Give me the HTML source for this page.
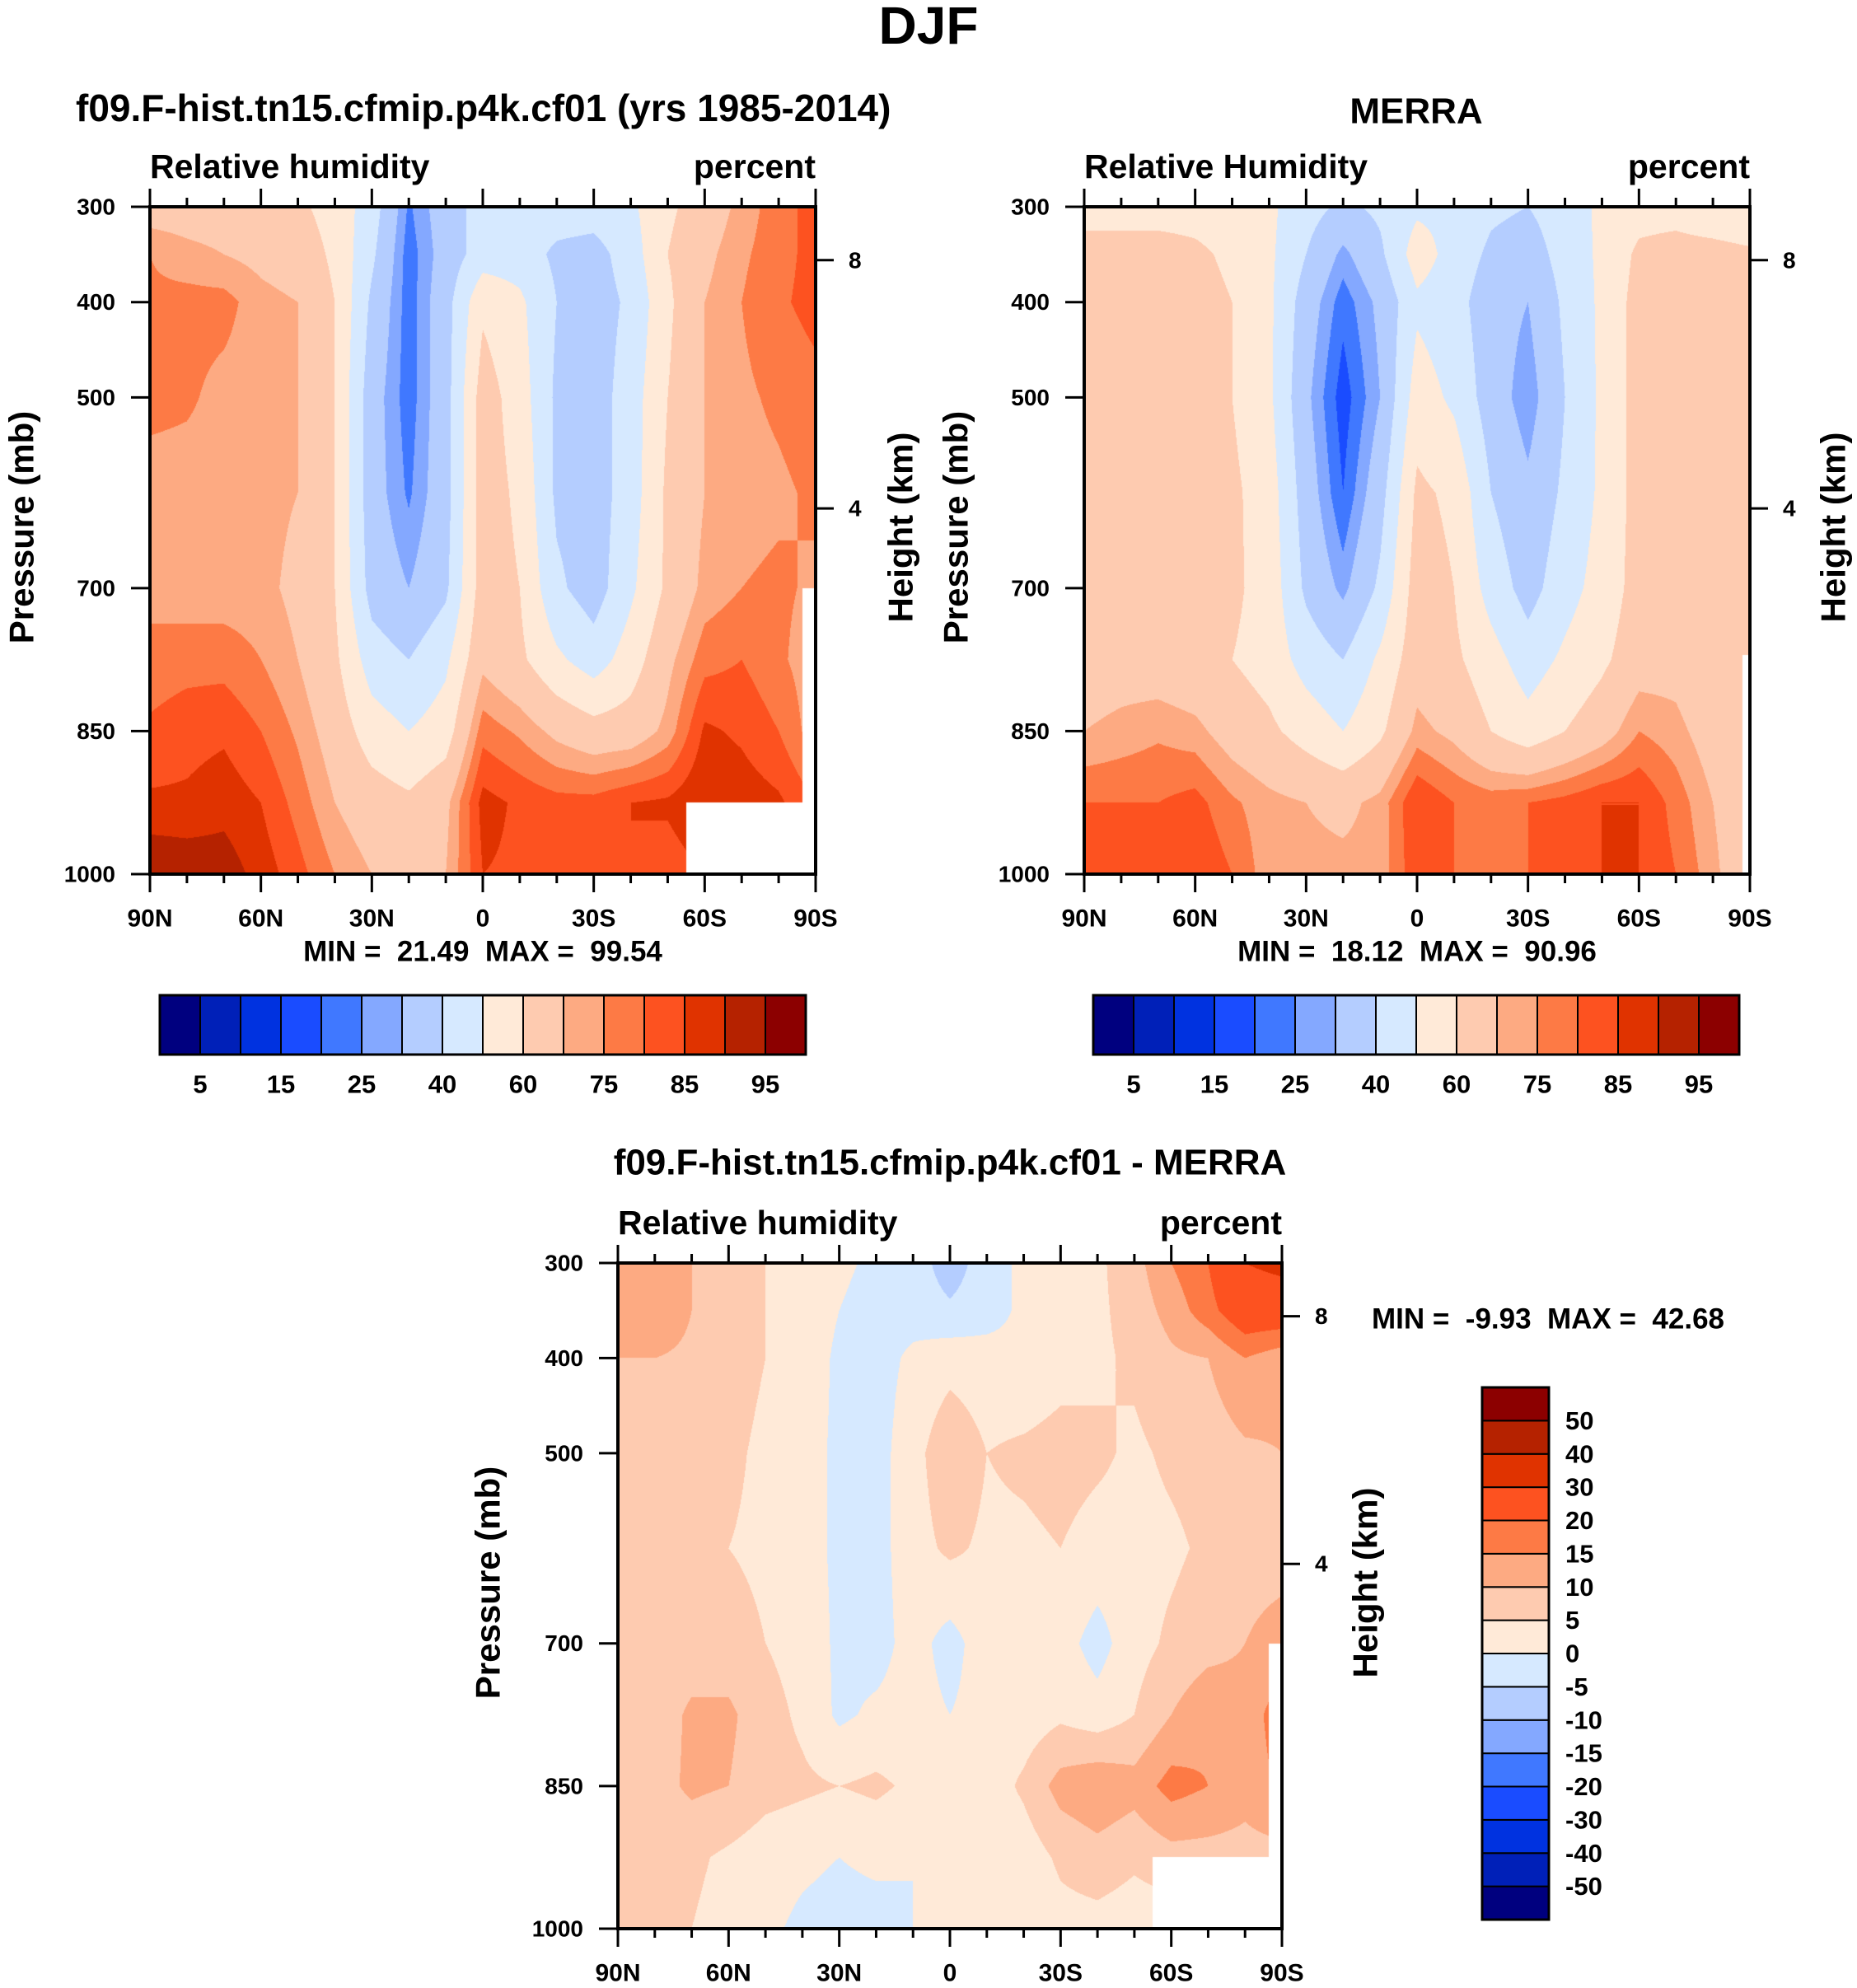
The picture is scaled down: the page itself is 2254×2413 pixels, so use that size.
<!DOCTYPE html>
<html><head><meta charset="utf-8">
<style>
html,body{margin:0;padding:0;background:#fff;}
#root{position:relative;width:2254px;height:2413px;overflow:hidden;font-family:"Liberation Sans",sans-serif;}
canvas{position:absolute;}
svg{position:absolute;left:0;top:0;}
text{font-family:"Liberation Sans",sans-serif;font-weight:bold;fill:#000;white-space:pre;}
</style></head>
<body>
<div id="root">
<canvas id="c1"></canvas>
<canvas id="c2"></canvas>
<canvas id="c3"></canvas>
<svg id="svg" width="2254" height="2413"></svg>
</div>
<script>
// ---- data ----
const lats = [90,80,70,60,50,40,30,20,10,0,-10,-20,-30,-40,-50,-60,-70,-80,-90];
const levels = [300,350,400,500,600,700,775,850,925,1000];
const modelRH = [
[66,66,66,64,62,56,45,24,35,44,45,45,45,48,58,65,72,78,82],
[75,72,70,68,66,58,42,22,34,45,45,38,36,45,60,68,74,78,82],
[76,77,77,72,70,60,38,22,36,58,52,40,35,42,58,70,75,79,82],
[77,76,73,72,70,60,34,22,36,65,55,38,35,45,60,70,74,76,78],
[72,72,72,72,70,60,34,24,36,65,58,38,35,45,62,70,73,74,76],
[73,72,72,72,68,60,36,30,38,65,60,42,35,48,62,72,75,76,74],
[77,78,78,75,70,62,45,40,48,68,62,52,45,55,68,78,80,76,72],
[81,83,84,80,74,66,55,50,55,78,74,68,64,65,72,86,84,80,72],
[86,86,88,85,78,70,65,62,68,87,84,82,82,85,86,90,88,86,80],
[95,94,93,88,82,75,70,68,70,85,84,82,84,85,82,85,88,86,80]];
const merraRH = [
[56,56,56,56,55,52,44,38,42,48,48,42,40,45,52,56,56,52,50],
[64,64,64,62,58,52,40,28,38,55,46,38,35,44,52,62,64,64,62],
[64,64,64,64,60,52,35,22,32,48,44,34,30,42,52,64,64,66,64],
[64,64,64,64,60,52,32,17,30,55,48,35,26,40,52,64,64,64,62],
[65,65,65,64,62,55,35,20,36,62,58,40,32,42,52,64,65,64,62],
[65,65,65,64,62,56,38,28,42,65,60,46,36,46,54,64,64,62,60],
[65,66,65,63,60,56,46,40,52,66,62,54,45,52,58,66,67,62,62],
[70,72,74,72,66,62,56,50,58,72,68,60,54,60,66,75,72,66,62],
[80,80,80,82,76,72,70,68,72,85,80,78,80,82,85,85,78,70,62],
[84,85,84,85,80,72,72,72,72,84,80,78,80,82,85,85,80,72,62]];
const diffRH = [
[15,15,10,7,5,2,1,-1,-2,-8,-2,1,2,4,8,15,20,30,32],
[15,14,10,7,5,3,0,-2,-2,-4,-2,1,2,4,7,12,18,25,25],
[10,10,9,7,5,3,-1,-2,1,3,2,1,3,4,6,9,10,15,12],
[7,7,7,6,4,2,-1,-2,3,9,5,6,7,6,4,6,7,9,10],
[5,5,5,5,4,2,-1,-2,3,6,4,4,5,3,3,4,6,8,8],
[6,6,7,7,5,3,-1,-2,2,-2,3,2,2,-2,3,6,8,10,12],
[6,7,11,11,7,4,-1,1,2,0,2,2,4,2,5,10,14,12,18],
[6,8,11,10,7,6,5,6,4,4,2,6,12,14,12,17,15,12,16],
[6,6,6,4,2,1,0,1,0,0,0,2,6,8,6,8,8,8,8],
[6,6,5,3,1,-1,-2,-2,0,0,0,0,3,3,2,2,2,2,2]];
// missing-data regions: [latFrom, latTo, pTop, pBottom]
const missingModel = [[-55,-90,925,1000],[-86.5,-90,700,1000]];
const missingMerra = [[-88,-90,770,1000]];
const rhLevels = [5,10,15,20,25,30,40,50,60,70,75,80,85,90,95];
const rhTickLabels = ["5","15","25","40","60","75","85","95"];
const diffLevels = [-50,-40,-30,-20,-15,-10,-5,0,5,10,15,20,30,40,50];
const pressureTicks = [300,400,500,700,850,1000];
const heightTicks = [8,4];
const latTicks = [90,60,30,0,-30,-60,-90];
const latTickLabels = ["90N","60N","30N","0","30S","60S","90S"];
const colors = ["#00007f","#0020b8","#0032e0","#1a4cff","#4078ff","#84a8ff","#b4cdff","#d6e9ff","#ffead8","#fecbb0","#fdaa82","#fd7a45","#fd5220","#e03300","#b52200","#8c0000"];

const NS="http://www.w3.org/2000/svg";
const svg=document.getElementById('svg');
function mk(tag,attrs,parent){const e=document.createElementNS(NS,tag);for(const k in attrs)e.setAttribute(k,attrs[k]);(parent||svg).appendChild(e);return e;}
function txt(x,y,s,size,anchor,rot){const t=mk('text',{x:x,y:y,'font-size':size,'text-anchor':anchor||'start','dominant-baseline':'central'});if(rot)t.setAttribute('transform','rotate('+rot+' '+x+' '+y+')');t.textContent=s;return t;}
function hex(c){return [parseInt(c.substr(1,2),16),parseInt(c.substr(3,2),16),parseInt(c.substr(5,2),16)];}
const rgb=colors.map(hex);
function heightToP(z){return 1013.25*Math.pow(1-2.25577e-5*z*1000,5.25588);}

function plot(cfg){
  const L=cfg.x,T=cfg.y,W=cfg.w,H=cfg.h;
  const xs=lat=>L+(90-lat)/180*W;
  const ys=p=>T+(p-300)/700*H;
  const cv=document.getElementById(cfg.canvas);
  cv.width=W;cv.height=H;cv.style.left=L+'px';cv.style.top=T+'px';
  const ctx=cv.getContext('2d');const img=ctx.createImageData(W,H);
  for(let j=0;j<H;j++){
    const p=300+(j+0.5)/H*700;
    let r=0;while(r<levels.length-2&&levels[r+1]<p)r++;
    const fy=(p-levels[r])/(levels[r+1]-levels[r]);
    for(let i=0;i<W;i++){
      const lat=90-(i+0.5)/W*180;
      const fi=(90-lat)/10;let c=Math.min(Math.floor(fi),lats.length-2);const fx=fi-c;
      const g=cfg.data;
      const v=(g[r][c]*(1-fx)+g[r][c+1]*fx)*(1-fy)+(g[r+1][c]*(1-fx)+g[r+1][c+1]*fx)*fy;
      let k=0;while(k<cfg.levels.length&&v>=cfg.levels[k])k++;
      let col=rgb[k];
      for(const m of cfg.missing){if(lat<=m[0]&&lat>=m[1]&&p>=m[2]&&p<=m[3]){col=[255,255,255];}}
      const o=(j*W+i)*4;img.data[o]=col[0];img.data[o+1]=col[1];img.data[o+2]=col[2];img.data[o+3]=255;
    }
  }
  ctx.putImageData(img,0,0);
  const g=mk('g',{});
  
  
  const frame=mk('rect',{x:L,y:T,width:W,height:H,fill:'none',stroke:'#000','stroke-width':4},g);
  
  
  for(let lat=90;lat>=-90;lat-=10){
    const major=lat%30===0;const len=major?22:11;const x=xs(lat);
    const t1=mk('line',{x1:x,x2:x,y1:T,y2:T-len,stroke:'#000','stroke-width':3},g);
    
    
    const t2=mk('line',{x1:x,x2:x,y1:T+H,y2:T+H+len,stroke:'#000','stroke-width':3},g);
    
    
  }
  latTicks.forEach((lat,i)=>{
    const t=txt(xs(lat),T+H+54,latTickLabels[i],30,'middle');
    
    
  });
  pressureTicks.forEach(p=>{
    const l=mk('line',{x1:L-23,x2:L,y1:ys(p),y2:ys(p),stroke:'#000','stroke-width':3},g);
    
    
    const t=txt(L-42,ys(p),String(p),28,'end');
    
    
  });
  heightTicks.forEach(z=>{
    const y=ys(heightToP(z));
    const l=mk('line',{x1:L+W,x2:L+W+22,y1:y,y2:y,stroke:'#000','stroke-width':3},g);
    
    
    const t=txt(L+W+40,y,String(z),28,'start');
    
    
  });
  const a=txt(cfg.px,T+H*0.5-16,'Pressure (mb)',42,'middle',-90);
  
  
  const b=txt(cfg.hx,T+H*0.5-16,'Height (km)',42,'middle',-90);
  
  
  const v=txt(L,T-49,cfg.varName,41,'start');
  
  
  const u=txt(L+W,T-49,'percent',41,'end');
  
  
}
plot({canvas:'c1',name:'model-panel',x:182,y:251,w:808,h:810,data:modelRH,levels:rhLevels,missing:missingModel,px:26,hx:1093,varName:'Relative humidity'});
plot({canvas:'c2',name:'merra-panel',x:1316,y:251,w:808,h:810,data:merraRH,levels:rhLevels,missing:missingMerra,px:1160,hx:2225,varName:'Relative Humidity'});
plot({canvas:'c3',name:'difference-panel',x:750,y:1533,w:806,h:808,data:diffRH,levels:diffLevels,missing:missingModel,px:592,hx:1657,varName:'Relative humidity'});

let t;
t=txt(1127,31,'DJF',64,'middle');


t=txt(92,131,'f09.F-hist.tn15.cfmip.p4k.cf01 (yrs 1985-2014)',46,'start');


t=txt(1719,135,'MERRA',44,'middle');


t=txt(1153,1411,'f09.F-hist.tn15.cfmip.p4k.cf01 - MERRA',44,'middle');


t=txt(586,1155,'MIN =  21.49  MAX =  99.54',35,'middle');


t=txt(1720,1155,'MIN =  18.12  MAX =  90.96',35,'middle');


t=txt(2093,1601,'MIN =  -9.93  MAX =  42.68',35,'end');



function hbar(x0,y0,w,h,name){
  const g=mk('g',{});
  
  
  const bw=w/colors.length;
  colors.forEach((c,i)=>{
    const r=mk('rect',{x:x0+i*bw,y:y0,width:bw,height:h,fill:c,stroke:'#000','stroke-width':2},g);
    
    
  });
  const f=mk('rect',{x:x0,y:y0,width:w,height:h,fill:'none',stroke:'#000','stroke-width':3},g);
  
  
  rhTickLabels.forEach((s,i)=>{
    const k=rhLevels.indexOf(Number(s))+1;
    const tl=txt(x0+k*bw,y0+h+36,s,31,'middle');
    
    
  });
}
hbar(194,1208,784,72,'model-colorbar');
hbar(1327,1208,784,72,'merra-colorbar');
(function(){
  const x0=1799,y0=1684,w=81,h=646;
  const g=mk('g',{});
  
  
  const bh=h/colors.length;
  colors.forEach((c,i)=>{
    const r=mk('rect',{x:x0,y:y0+(colors.length-1-i)*bh,width:w,height:bh,fill:c,stroke:'#000','stroke-width':2},g);
    
    
  });
  const f=mk('rect',{x:x0,y:y0,width:w,height:h,fill:'none',stroke:'#000','stroke-width':3},g);
  
  
  diffLevels.forEach((v,i)=>{
    const y=y0+(colors.length-1-i)*bh;
    const tl=txt(x0+w+20,y,String(v),31,'start');
    
    
  });
})();
</script>
</body></html>
